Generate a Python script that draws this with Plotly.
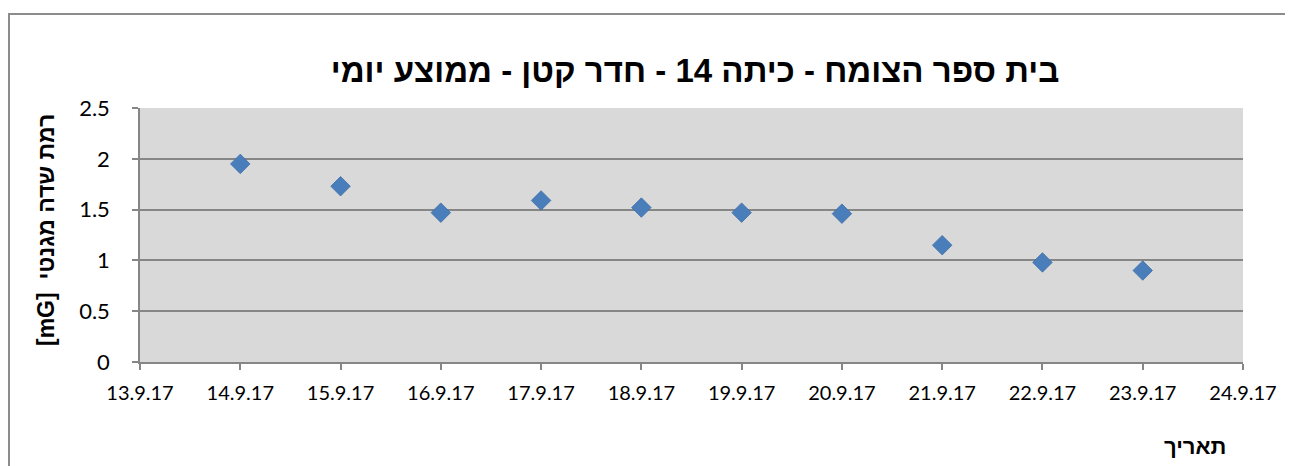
import plotly.graph_objects as go

dates = ["2017-09-14", "2017-09-15", "2017-09-16", "2017-09-17", "2017-09-18",
         "2017-09-19", "2017-09-20", "2017-09-21", "2017-09-22", "2017-09-23"]
values = [1.95, 1.73, 1.47, 1.59, 1.52, 1.47, 1.46, 1.15, 0.98, 0.90]
title_text = "בית ספר הצומח - כיתה 14 - חדר קטן - ממוצע יומי"
y_title = "[mG]  רמת שדה מגנטי"
x_title = "תאריך"

grid = "#868686"
# page body has an 8px margin: figure origin sits at (8, 8) in the screenshot
W, H = 1285, 458
L, R, T, B = 132, 50, 100, 104
plot_w = W - L - R
plot_h = H - T - B


def px(xs):
    return (xs - 8 - L) / plot_w


def py(ys):
    return (8 + T + plot_h - ys) / plot_h


fig = go.Figure()
fig.add_trace(go.Scatter(
    x=dates, y=values, mode="markers",
    marker=dict(symbol="diamond", size=15, color="#4A7EBB",
                line=dict(color="#3F6FA8", width=0.8)),
    showlegend=False,
))

fig.update_layout(
    width=W, height=H,
    margin=dict(l=L, r=R, t=T, b=B),
    paper_bgcolor="white", plot_bgcolor="#D9D9D9",
    font=dict(family="Liberation Sans, Arial, sans-serif", color="black"),
    title=dict(text="<b>" + title_text + "</b>", xref="container",
               x=(695 - 8) / W, xanchor="center",
               yref="container", y=1 - (70 - 8) / H, yanchor="middle",
               font=dict(size=33, family="Liberation Sans, Arial, sans-serif")),
    xaxis=dict(
        type="date", range=["2017-09-13", "2017-09-24"],
        tick0="2017-09-13", dtick=86400000, tickformat="%-d.%-m.%y",
        showgrid=False, showline=True, linecolor=grid, linewidth=1.5,
        ticks="outside", ticklen=6, tickcolor=grid, tickwidth=1.5,
        ticklabelstandoff=6,
        tickfont=dict(size=20, family="Lato, Carlito, sans-serif"),
        zeroline=False,
    ),
    yaxis=dict(
        range=[0, 2.5], dtick=0.5,
        showgrid=True, gridcolor=grid, gridwidth=1.5,
        showline=True, linecolor=grid, linewidth=1.5,
        ticks="outside", ticklen=6, tickcolor=grid, tickwidth=1.5,
        ticklabelstandoff=18,
        tickfont=dict(size=22, family="Lato, Carlito, sans-serif"),
        zeroline=False,
    ),
)

fig.add_annotation(
    text="<b>" + y_title + "</b>", textangle=-90,
    xref="paper", yref="paper", x=px(46), y=py(230),
    xanchor="center", yanchor="middle", showarrow=False,
    font=dict(size=23, family="Liberation Sans, Arial, sans-serif"),
)
fig.add_annotation(
    text="<b>" + x_title + "</b>",
    xref="paper", yref="paper", x=px(1195), y=py(446),
    xanchor="center", yanchor="middle", showarrow=False,
    font=dict(size=22, family="Liberation Sans, Arial, sans-serif"),
)
fig.add_shape(
    type="rect", xref="paper", yref="paper",
    x0=px(9), x1=px(1320),
    y0=py(500), y1=py(14),
    line=dict(color="#8C8C8C", width=2), fillcolor="rgba(0,0,0,0)", layer="below",
)

fig.write_html("out.html")
